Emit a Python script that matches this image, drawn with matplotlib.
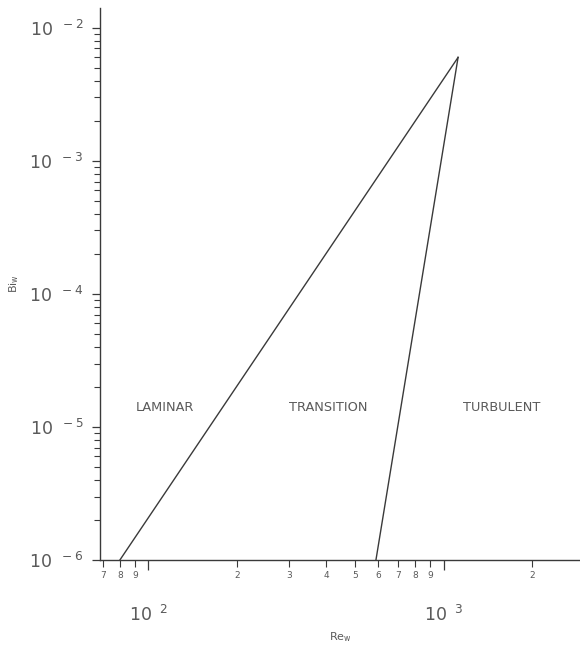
import numpy as np
import matplotlib.pyplot as plt
from matplotlib.ticker import LogLocator, FixedLocator, FuncFormatter, NullFormatter

plt.rcParams["font.family"] = ["DejaVu Sans"]
plt.rcParams["mathtext.fontset"] = "dejavusans"

# Regime boundaries in the (Re_w, Bi_w) plane
laminar_re = [80, 1120]
laminar_bi = [1.0e-6, 6.0e-3]
turbulent_re = [590, 1120]
turbulent_bi = [1.0e-6, 6.0e-3]

regions = ["LAMINAR", "TRANSITION", "TURBULENT"]
region_re = [114, 408, 1570]
region_bi = 1.4e-5

ink = "#3a3a3a"
txt = "#5a5a5a"

fig = plt.figure(figsize=(5.8, 6.46), dpi=100)
ax = fig.add_axes([0.1724, 0.1331, 0.8276, 0.8545])

ax.plot(laminar_re, laminar_bi, color=ink, lw=1.0)
ax.plot(turbulent_re, turbulent_bi, color=ink, lw=1.0)

ax.set_xscale("log")
ax.set_yscale("log")
ax.set_xlim(68.5, 2900)
ax.set_ylim(1e-6, 0.0141)

for name, re in zip(regions, region_re):
    ax.text(re, region_bi, name, ha="center", va="center", fontsize=9.3, color=txt)

for side in ["top", "right"]:
    ax.spines[side].set_visible(False)
for side in ["left", "bottom"]:
    ax.spines[side].set_color(ink)
    ax.spines[side].set_linewidth(1.0)


def sup_label(v, pos=None):
    e = int(round(np.log10(v)))
    return r"10$^{\ \ %d}$" % e


# x axis: decades plus labelled intermediate ticks
ax.xaxis.set_major_locator(FixedLocator([100, 1000]))
ax.xaxis.set_major_formatter(FuncFormatter(sup_label))
minor_x = [70, 80, 90] + [d * 100 for d in range(2, 10)] + [2000]
ax.xaxis.set_minor_locator(FixedLocator(minor_x))
ax.xaxis.set_minor_formatter(FuncFormatter(lambda v, p: "%d" % int(str(int(v))[0])))
ax.tick_params(axis="x", which="major", direction="out", length=7, width=0.9,
               colors=ink, labelsize=12.5, pad=25, labelcolor=txt)
ax.tick_params(axis="x", which="minor", direction="out", length=5, width=0.8,
               colors=ink, labelsize=6.5, pad=3, labelcolor=txt)

# y axis: decades with unlabelled intermediate ticks
ax.yaxis.set_major_locator(LogLocator(base=10, numticks=10))
ax.yaxis.set_major_formatter(FuncFormatter(sup_label))
ax.yaxis.set_minor_locator(LogLocator(base=10, subs=np.arange(2, 10), numticks=20))
ax.yaxis.set_minor_formatter(NullFormatter())
ax.tick_params(axis="y", which="major", direction="out", length=6, width=0.9,
               colors=ink, labelsize=12.5, pad=6, labelcolor=txt)
ax.tick_params(axis="y", which="minor", direction="out", length=4, width=0.8, colors=ink)

ax.set_xlabel(r"Re$_{\mathrm{w}}$", fontsize=8, color=txt, labelpad=4)
ax.set_ylabel(r"Bi$_{\mathrm{w}}$", fontsize=8, color=txt, labelpad=6)

fig.savefig("out.png", dpi=100)
